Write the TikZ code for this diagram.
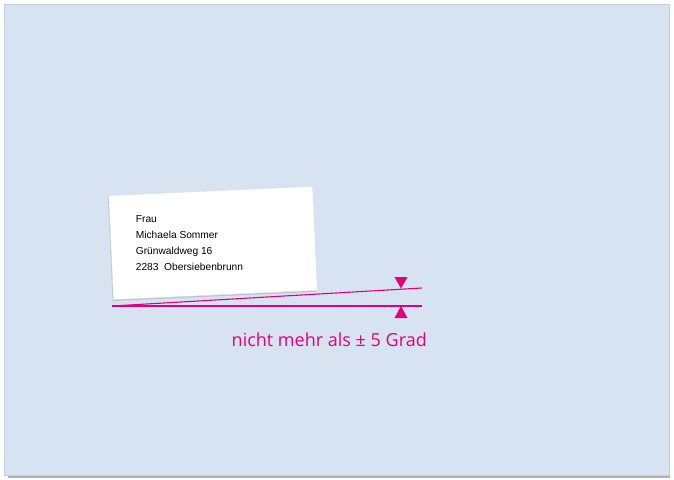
\documentclass[tikz,border=0pt]{standalone}
\usepackage{fontspec}
\usepackage{xcolor}
\usepackage{tikz}
\usetikzlibrary{arrows.meta,positioning,calc,shadows}
\newfontfamily\addrfont{Liberation Sans}
\newfontfamily\notefont{Open Sans}
\definecolor{paper}{RGB}{216,227,241}
\definecolor{paperedge}{RGB}{196,206,220}
\definecolor{pink}{RGB}{228,0,124}
\tikzset{
  envelope/.style={fill=paper, draw=paperedge, line width=0.8pt},
  card/.style={fill=white, draw=black!12, line width=0.4pt, minimum width=204pt, minimum height=104pt,
    inner sep=0pt, drop shadow={shadow xshift=-0.8pt, shadow yshift=-1.5pt, opacity=0.35, fill=black!45}},
  addr/.style={font=\addrfont\fontsize{10.2}{16}\selectfont, align=left, inner sep=0pt, text=black},
  tolline/.style={draw=pink, line width=1.1pt},
  tip/.style={fill=pink},
  note/.style={font=\notefont\fontsize{18}{22}\selectfont, text=pink, inner sep=0pt}
}
\begin{document}
\begin{tikzpicture}[x=1pt, y=-1pt]
  \useasboundingbox[fill=white] (0,0) rectangle (674,479);
  % Umschlag
  \fill[black!30] (8,472) rectangle (670,478);
  \draw[envelope] (4,4) rectangle (669,475);
  % Adressfeld
  \node[card, rotate=2.6] (card) at (213,243) {};
  \begin{scope}[shift={(card.center)}, rotate=2.6]
    \node[addr, anchor=north west] (adr) at (-76,-31)
      {Frau\\Michaela Sommer\\Grünwaldweg 16\\2283\ \ Obersiebenbrunn};
  \end{scope}
  % Toleranz
  \coordinate (base) at (112,306);
  \coordinate (hend) at (422,306);
  \coordinate (tend) at (422,288);
  \draw[tolline] (base) -- (hend);
  \draw[tolline] (base) -- (tend);
  \coordinate (top) at (401,288.5);
  \coordinate (bot) at (401,306);
  \fill[tip] (top) -- ++(-6.5,-11.5) -- ++(13,0) -- cycle;
  \fill[tip] (bot) -- ++(-6.5,12) -- ++(13,0) -- cycle;
  \node[note, anchor=base east] (txt) at (427,346) {nicht mehr als ± 5 Grad};
\end{tikzpicture}
\end{document}
